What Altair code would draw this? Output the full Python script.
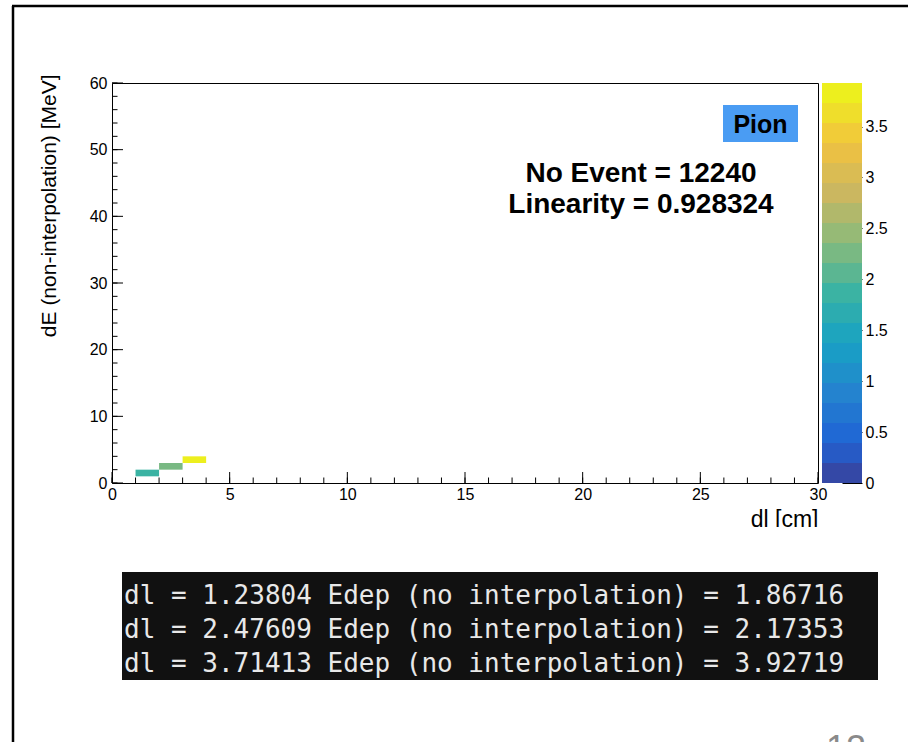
import altair as alt
import numpy as np
import pandas as pd

# ---------------- data ----------------
dl = [1.23804, 2.47609, 3.71413]
edep = [1.86716, 2.17353, 3.92719]
x_major = [0, 5, 10, 15, 20, 25, 30]
x_minor = list(range(0, 31, 1))
y_major = [0, 10, 20, 30, 40, 50, 60]
y_minor = list(range(0, 61, 2))
z_ticks = [0, 0.5, 1, 1.5, 2, 2.5, 3, 3.5]
particle = "Pion"
n_event = 12240
linearity = 0.928324
x_title = "dl [cm]"
y_title = "dE (non-interpolation) [MeV]"
page_number = "12"

# ---------------- layout / style ----------------
W, H = 706, 400
FONT = "Liberation Sans"
MONO = "DejaVu Sans Mono"
zmax = max(edep)
n_levels = 20

# ROOT kBird palette, discretised into n_levels contour colours
stops = [0.0, 0.125, 0.25, 0.375, 0.5, 0.625, 0.75, 0.875, 1.0]
red = [0.2082, 0.0592, 0.0780, 0.0232, 0.1802, 0.5301, 0.8186, 0.9956, 0.9764]
green = [0.1664, 0.3599, 0.5041, 0.6419, 0.7178, 0.7492, 0.7328, 0.7862, 0.9832]
blue = [0.5293, 0.8684, 0.8385, 0.7914, 0.6425, 0.4662, 0.3499, 0.1968, 0.0539]
palette = []
for i in range(n_levels):
    idx = int((i + 0.99) * 255 / n_levels)
    f = idx / 254.0
    r, g, b = (np.interp(f, stops, c) for c in (red, green, blue))
    # slight wash-out, as in the screenshot
    r, g, b = (0.88 * v + 0.12 * 0.6 for v in (r, g, b))
    palette.append("#%02x%02x%02x" % (int(round(r * 255)), int(round(g * 255)), int(round(b * 255))))

cscale = alt.Scale(type="quantize", domain=[0, zmax], range=palette, nice=False)
xscale = alt.Scale(domain=[0, 30], nice=False, zero=False)
yscale = alt.Scale(domain=[0, 60], nice=False, zero=False)
xaxis = alt.Axis(values=x_major, ticks=False, domain=False, grid=False,
                 labelPadding=3, labelFontSize=16, title=x_title,
                 titleAnchor="end", titleFontSize=23, titlePadding=6,
                 titleFontWeight="normal", labelFlush=False)
yaxis = alt.Axis(values=y_major, ticks=False, domain=False, grid=False,
                 labelPadding=5, labelFontSize=16, title=y_title,
                 titleAnchor="end", titleFontSize=21, titlePadding=30, titleY=-9,
                 titleFontWeight="normal", labelFlush=False)

df = pd.DataFrame({"dl": dl, "edep": edep})
levels = pd.DataFrame({"lo": [zmax * i / n_levels for i in range(n_levels)],
                       "hi": [zmax * (i + 1) / n_levels for i in range(n_levels)]})
levels["mid"] = (levels["lo"] + levels["hi"]) / 2

# ---------------- main histogram ----------------
heat = alt.Chart(df).transform_bin(
    "x0", "dl", bin=alt.Bin(step=1)
).transform_bin(
    "y0", "edep", bin=alt.Bin(step=1)
).mark_rect().encode(
    x=alt.X("x0:Q", scale=xscale, axis=xaxis, title=x_title),
    x2="x0_end:Q",
    y=alt.Y("y0:Q", scale=yscale, axis=yaxis, title=y_title),
    y2="y0_end:Q",
    color=alt.Color("edep:Q", scale=cscale, legend=None),
)

xmaj = alt.Chart(pd.DataFrame({"v": x_major})).mark_rule(color="black", strokeWidth=1).encode(
    x=alt.X("v:Q", scale=xscale, axis=xaxis, title=x_title), y=alt.value(H), y2=alt.value(H - 11))
xmin = alt.Chart(pd.DataFrame({"v": x_minor})).mark_rule(color="black", strokeWidth=1).encode(
    x=alt.X("v:Q", scale=xscale, axis=xaxis, title=x_title), y=alt.value(H), y2=alt.value(H - 5.5))
ymaj = alt.Chart(pd.DataFrame({"v": y_major})).mark_rule(color="black", strokeWidth=1).encode(
    y=alt.Y("v:Q", scale=yscale, axis=yaxis, title=y_title), x=alt.value(0), x2=alt.value(11))
ymin = alt.Chart(pd.DataFrame({"v": y_minor})).mark_rule(color="black", strokeWidth=1).encode(
    y=alt.Y("v:Q", scale=yscale, axis=yaxis, title=y_title), x=alt.value(0), x2=alt.value(5.5))

main = alt.layer(heat, xmaj, xmin, ymaj, ymin)

# ---------------- colour bar ----------------
cbar = alt.Chart(levels).mark_rect().encode(
    x=alt.value(W + 4), x2=alt.value(W + 44),
    y=alt.Y("lo:Q", scale=alt.Scale(domain=[0, zmax], nice=False, zero=False),
            axis=alt.Axis(orient="right", values=z_ticks, offset=24, tickSize=20,
                          tickColor="black", tickWidth=1, domain=False, grid=False,
                          labelPadding=3, labelFontSize=16, format="~g", title=None,
                          labelFlush=False)),
    y2="hi:Q",
    color=alt.Color("mid:Q", scale=cscale, legend=None),
)

# ---------------- annotations ----------------
pion_box = alt.Chart(pd.DataFrame({"t": [particle]})).mark_rect(color="#4a9cf3").encode(
    x=alt.value(611), x2=alt.value(686), y=alt.value(22), y2=alt.value(59))
pion_txt = alt.Chart(pd.DataFrame({"t": [particle]})).mark_text(
    font=FONT, fontSize=25, fontWeight="bold", color="black", align="center", baseline="alphabetic"
).encode(text="t:N", x=alt.value(648.5), y=alt.value(50))

info = pd.DataFrame({"t": [f"No Event = {n_event}", f"Linearity = {linearity}"], "k": [0, 1]})
info_txt = alt.Chart(info).mark_text(
    font=FONT, fontSize=28, fontWeight="bold", color="black", align="center", baseline="alphabetic"
).encode(text="t:N", x=alt.value(529),
         y=alt.Y("k:O", scale=alt.Scale(type="point", range=[99, 130], padding=0), axis=None))

# ---------------- terminal snapshot ----------------
term = pd.DataFrame({
    "t": [f"dl = {a} Edep (no interpolation) = {b}" for a, b in zip(dl, edep)],
    "k": list(range(len(dl))),
})
term_bg = alt.Chart(pd.DataFrame({"t": [0]})).mark_rect(color="#111111").encode(
    x=alt.value(10), x2=alt.value(766), y=alt.value(489), y2=alt.value(597))
term_txt = alt.Chart(term).mark_text(
    font=MONO, fontSize=26, color="#e8e8e8", align="left", baseline="alphabetic"
).encode(text="t:N", x=alt.value(12),
         y=alt.Y("k:O", scale=alt.Scale(type="point", range=[521, 589], padding=0), axis=None))

# ---------------- slide decorations ----------------
border_left = alt.Chart(pd.DataFrame({"t": [0]})).mark_rule(color="black", strokeWidth=2.5).encode(
    x=alt.value(-99), y=alt.value(-77), y2=alt.value(670))
border_top = alt.Chart(pd.DataFrame({"t": [0]})).mark_rule(color="black", strokeWidth=2.5).encode(
    y=alt.value(-77), x=alt.value(-100), x2=alt.value(800))
cover = alt.Chart(pd.DataFrame({"t": [0]})).mark_rect(color="white").encode(
    x=alt.value(560), x2=alt.value(730), y=alt.value(444), y2=alt.value(482))
page = alt.Chart(pd.DataFrame({"t": [page_number]})).mark_text(
    font=FONT, fontSize=36, color="#8a8a8a", align="center", baseline="alphabetic"
).encode(text="t:N", x=alt.value(734), y=alt.value(678))

chart = alt.layer(
    main, cbar, pion_box, pion_txt, info_txt, term_bg, term_txt,
    border_left, border_top, cover, page
).resolve_scale(
    y="independent"
).properties(
    width=W, height=H,
    padding={"left": 112, "top": 83, "right": 90, "bottom": 259},
    autosize=alt.AutoSizeParams(type="none"),
    background="white",
).configure_view(
    stroke="black", strokeWidth=1
).configure_axis(
    labelFont=FONT, titleFont=FONT, labelColor="black", titleColor="black"
)

chart.save("out.html", embed_options={"renderer": "svg", "actions": False})
